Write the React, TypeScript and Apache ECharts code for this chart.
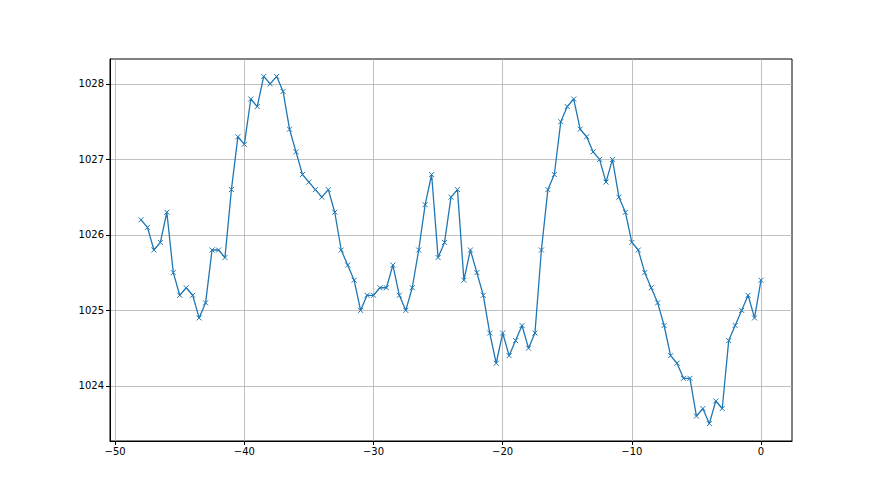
import React, { useEffect, useRef } from "react";
import * as echarts from "echarts";

const xStart = -48;
const xStep = 0.5;
const pressure = [
  1026.2, 1026.1, 1025.8, 1025.9, 1026.3, 1025.5, 1025.2, 1025.3, 1025.2, 1024.9,
  1025.1, 1025.8, 1025.8, 1025.7, 1026.6, 1027.3, 1027.2, 1027.8, 1027.7, 1028.1,
  1028.0, 1028.1, 1027.9, 1027.4, 1027.1, 1026.8, 1026.7, 1026.6, 1026.5, 1026.6,
  1026.3, 1025.8, 1025.6, 1025.4, 1025.0, 1025.2, 1025.2, 1025.3, 1025.3, 1025.6,
  1025.2, 1025.0, 1025.3, 1025.8, 1026.4, 1026.8, 1025.7, 1025.9, 1026.5, 1026.6,
  1025.4, 1025.8, 1025.5, 1025.2, 1024.7, 1024.3, 1024.7, 1024.4, 1024.6, 1024.8,
  1024.5, 1024.7, 1025.8, 1026.6, 1026.8, 1027.5, 1027.7, 1027.8, 1027.4, 1027.3,
  1027.1, 1027.0, 1026.7, 1027.0, 1026.5, 1026.3, 1025.9, 1025.8, 1025.5, 1025.3,
  1025.1, 1024.8, 1024.4, 1024.3, 1024.1, 1024.1, 1023.6, 1023.7, 1023.5, 1023.8,
  1023.7, 1024.6, 1024.8, 1025.0, 1025.2, 1024.9, 1025.4,
];
const xTicks = [-50, -40, -30, -20, -10, 0];
const yTicks = [1024, 1025, 1026, 1027, 1028];

export default function App() {
  const ref = useRef<HTMLDivElement>(null);
  useEffect(() => {
    if (!ref.current) return;
    const chart = echarts.init(ref.current, null, { renderer: "svg" });
    const data = pressure.map((v, i) => [xStart + i * xStep, v]);
    const font = { fontFamily: "DejaVu Sans", fontSize: 10, color: "#000" };
    chart.setOption({
      animation: false,
      backgroundColor: "#fff",
      grid: {
        left: 110,
        right: 88,
        top: 59,
        bottom: 54,
        show: true,
        borderColor: "#000",
        borderWidth: 1,
        backgroundColor: "transparent",
      },
      xAxis: {
        type: "value",
        min: -50.4,
        max: 2.4,
        axisLine: { show: true, onZero: false, lineStyle: { color: "#000", width: 1 } },
        axisTick: { show: true, length: 4, lineStyle: { color: "#000" }, customValues: xTicks },
        axisLabel: {
          ...font,
          margin: 5,
          customValues: xTicks,
          formatter: (v: number) => String(v).replace("-", "\u2212"),
        },
        splitLine: { show: true, lineStyle: { color: "#b0b0b0", width: 0.8 } },
      },
      yAxis: {
        type: "value",
        min: 1023.27,
        max: 1028.33,
        axisLine: { show: true, onZero: false, lineStyle: { color: "#000", width: 1 } },
        axisTick: { show: true, length: 4, lineStyle: { color: "#000" }, customValues: yTicks },
        axisLabel: { ...font, margin: 6, customValues: yTicks, formatter: (v: number) => String(v) },
        splitLine: { show: true, lineStyle: { color: "#b0b0b0", width: 0.8 } },
      },
      series: [
        {
          type: "line",
          data,
          lineStyle: { color: "#1f77b4", width: 1.3 },
          symbol: "path://M0,0L10,10M10,0L0,10",
          symbolSize: 5,
          showAllSymbol: true,
          itemStyle: { color: "#1f77b4", borderColor: "#1f77b4", borderWidth: 1 },
        },
      ],
    });
    return () => chart.dispose();
  }, []);
  return <div ref={ref} style={{ width: 880, height: 495, position: "absolute", left: 0, top: 0 }} />;
}
